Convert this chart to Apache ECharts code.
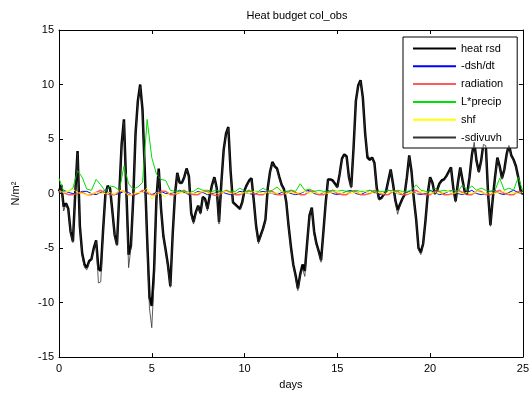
<!DOCTYPE html>
<html>
<head>
<meta charset="utf-8">
<script src="https://cdn.jsdelivr.net/npm/echarts@6/dist/echarts.min.js"></script>
<style>html,body{margin:0;padding:0;background:#fff}#c{width:532px;height:395px}</style>
</head>
<body>
<div id="c"></div>
<script>
const titleText = 'Heat budget col_obs';
const seriesNames = ['heat rsd', '-dsh/dt', 'radiation', 'L*precip', 'shf', '-sdivuvh'];
const xTicks = [0, 5, 10, 15, 20, 25];
const yTicks = [-15, -10, -5, 0, 5, 10, 15];
const fineStep = 0.125;   // days between samples of the residual / divergence series
const coarseStep = 0.25;  // days between samples of the smaller terms

const heatRsd = [
 0.2, 0.8, -1.2, -0.9, -1.4, -3.5, -4.4, 0.0, 3.9, -3.0,
 -5.5, -6.5, -6.8, -6.2, -6.0, -5.0, -4.3, -6.9, -7.1, -3.4,
 -0.1, 0.7, 0.5, -1.6, -3.8, -4.7, 0.0, 4.5, 6.8, 0.5,
 -5.6, -4.8, -0.5, 5.5, 8.5, 10.0, 7.7, 2.0, -4.1, -9.5,
 -10.3, -7.0, -0.5, 2.3, -1.4, -3.9, -5.2, -6.6, -8.5, -3.8,
 -0.1, 1.9, 1.0, 1.0, 1.5, 2.3, 1.6, -1.8, -2.6, -1.7,
 -1.1, -1.8, -0.3, -0.5, -1.4, -0.2, 0.8, 1.5, 0.5, -2.6,
 1.0, 4.0, 5.5, 6.1, 2.0, -0.8, -1.0, -1.2, -1.4, -0.8,
 0.3, 0.8, 1.2, 1.4, -0.7, -3.0, -4.4, -3.8, -3.2, -2.4,
 0.5, 2.0, 2.9, 2.5, 2.3, 1.5, 0.8, 0.4, -0.8, -3.0,
 -4.9, -6.5, -7.5, -8.7, -7.4, -6.5, -7.1, -4.5, -2.0, -1.3,
 -3.5, -4.6, -5.3, -6.1, -3.5, -0.8, 1.3, 1.3, 1.2, 0.9,
 0.6, 1.8, 3.2, 3.6, 3.4, 1.5, 0.6, 4.2, 8.5, 9.9,
 10.4, 8.8, 5.5, 3.3, 3.1, 3.3, 2.8, 0.5, -0.5, -0.4,
 -0.1, 0.2, 1.2, 2.2, 0.9, -0.6, -1.5, -1.0, -0.5, -0.1,
 1.5, 3.5, 2.0, -0.5, -2.4, -5.0, -5.4, -4.6, -2.5, 0.0,
 1.5, 1.0, 0.0, 0.3, 0.9, 1.2, 1.3, 1.6, 2.0, 2.4,
 0.5, -0.7, 1.0, 2.4, 1.2, 0.1, 0.0, 1.5, 3.5, 4.8,
 3.0, 2.0, 3.0, 4.6, 4.5, 0.0, -2.9, -0.5, 1.5, 3.3,
 2.5, 1.4, 2.2, 3.6, 4.5, 3.5, 3.1, 2.5, 1.5, 0.3,
 0.0
];

const sdivuvh = [
 0.1, 0.7, -1.6, -1.0, -1.5, -3.6, -4.5, -0.1, 3.7, -3.2,
 -5.7, -6.8, -7.0, -6.3, -6.1, -5.1, -4.4, -8.2, -8.1, -3.6,
 -0.2, 0.6, 0.4, -1.7, -3.9, -4.8, -0.1, 4.3, 6.6, 0.3,
 -6.8, -5.0, -0.6, 5.3, 8.3, 9.8, 7.4, 1.6, -4.6, -10.5,
 -12.3, -8.0, -0.8, 2.0, -1.6, -4.0, -5.3, -6.8, -8.6, -3.9,
 -0.2, 1.8, 0.9, 0.9, 1.4, 2.2, 1.5, -2.0, -2.8, -1.8,
 -1.2, -1.9, -0.4, -0.6, -1.6, -0.3, 0.7, 1.4, 0.4, -2.8,
 0.9, 3.9, 5.4, 6.0, 1.9, -0.9, -1.1, -1.3, -1.5, -0.9,
 0.2, 0.7, 1.1, 1.3, -0.8, -3.2, -4.6, -3.9, -3.3, -2.5,
 0.4, 1.9, 2.8, 2.4, 2.2, 1.4, 0.7, 0.3, -0.9, -3.2,
 -5.1, -6.6, -7.7, -8.9, -7.5, -6.9, -7.6, -4.6, -2.1, -1.4,
 -3.8, -4.7, -5.4, -6.3, -3.6, -0.9, 1.2, 1.2, 1.1, 0.8,
 0.5, 1.7, 3.1, 3.5, 3.3, 1.4, 0.5, 4.1, 8.4, 9.8,
 10.3, 8.7, 5.4, 3.5, 3.3, 3.2, 2.7, 0.4, -0.6, -0.5,
 -0.2, 0.1, 1.1, 2.1, 0.8, -0.7, -1.9, -1.1, -0.6, -0.2,
 1.4, 3.4, 1.9, -0.6, -2.5, -5.1, -5.6, -4.7, -2.6, -0.1,
 1.4, 0.9, -0.1, 0.2, 0.8, 1.1, 1.2, 1.5, 1.9, 2.3,
 0.4, -0.8, 0.9, 2.3, 1.1, 0.0, -0.1, 1.4, 3.4, 4.7,
 2.9, 1.9, 2.9, 4.5, 4.4, -0.1, -3.0, -0.6, 1.4, 3.2,
 2.4, 1.3, 2.1, 3.5, 4.4, 3.4, 3.0, 2.4, 1.4, 0.2,
 -0.1
];

const dshdt = [
 0.1, 0.3, 0.1, 0.0, 0.0, 0.2, 0.2, 0.0, -0.1, 0.1,
 0.3, 0.0, -0.1, 0.0, 0.2, 0.1, -0.2, 0.0, 0.2, 0.0,
 -0.1, 0.1, 0.2, 0.0, 0.0, 0.1, 0.3, 0.1, -0.1, 0.0,
 0.2, 0.1, -0.1, 0.0, 0.1, 0.2, 0.0, -0.1, 0.0, 0.2,
 0.1, 0.0, -0.1, 0.1, 0.2, 0.1, 0.0, -0.1, 0.1, 0.2,
 0.0, -0.1, 0.0, 0.2, 0.3, 0.0, -0.1, 0.1, 0.3, 0.0,
 -0.1, 0.0, 0.2, 0.3, 0.0, -0.1, 0.1, 0.3, 0.1, -0.1,
 0.0, 0.3, 0.2, 0.0, -0.1, 0.1, 0.3, 0.0, -0.1, 0.0,
 0.3, 0.1, -0.1, 0.0, 0.2, 0.3, 0.0, -0.1, 0.1, 0.3,
 0.0, -0.1, 0.0, 0.2, 0.3, 0.0, -0.1, 0.1, 0.3, 0.1,
 -0.1
];

const radiation = [
 0.2, 0.1, -0.1, -0.1, 0.0, 0.1, -0.1, -0.1, 0.1, 0.3,
 0.0, -0.1, -0.1, 0.2, 0.2, -0.1, -0.1, 0.0, 0.3, 0.1,
 -0.1, -0.1, 0.2, 0.2, -0.1, -0.1, 0.1, 0.3, 0.0, -0.1,
 -0.1, 0.2, 0.2, -0.1, -0.2, 0.0, 0.3, 0.1, -0.1, -0.1,
 0.1, 0.3, 0.0, -0.1, -0.1, 0.2, 0.2, -0.1, -0.1, 0.0,
 0.3, 0.1, -0.1, -0.1, 0.2, 0.2, -0.1, -0.1, 0.1, 0.3,
 0.0, -0.1, -0.1, 0.2, 0.2, -0.1, -0.1, 0.0, 0.3, 0.1,
 -0.1, -0.1, 0.2, 0.2, -0.1, -0.1, 0.1, 0.3, 0.0, -0.1,
 -0.1, 0.2, 0.2, -0.1, -0.1, 0.0, 0.3, 0.1, -0.1, -0.1,
 0.2, 0.2, -0.1, -0.1, 0.1, 0.3, 0.0, -0.1, -0.1, 0.2,
 0.1
];

const precip = [
 1.4, 0.2, 0.2, 0.5, 2.1, 1.5, 0.4, 0.3, 1.3, 0.8,
 0.2, 0.7, 0.6, 0.3, 2.5, 0.9, 0.4, 0.6, 1.0, 6.8,
 3.3, 1.8, 1.3, 1.2, 0.3, 0.2, 0.2, 0.2, 0.1, 0.2,
 0.5, 0.3, 0.3, 0.2, 0.3, 0.2, 0.2, 0.2, 0.2, 0.5,
 0.2, 0.2, 0.2, 0.2, 0.5, 0.2, 0.3, 0.6, 0.2, 0.2,
 0.3, 0.2, 0.9, 0.3, 0.4, 0.2, 0.3, 0.2, 0.2, 0.3,
 0.2, 0.3, 0.2, 0.2, 0.3, 0.2, 0.2, 0.3, 0.2, 0.2,
 0.2, 0.3, 0.2, 0.3, 0.2, 0.2, 0.3, 0.8, 0.3, 0.2,
 0.2, 0.5, 0.2, 0.3, 0.2, 0.3, 0.2, 0.8, 0.3, 0.7,
 0.3, 0.5, 0.3, 0.2, 0.3, 1.4, 0.3, 0.5, 0.3, 1.5,
 0.2
];

const shf = [
 0.3, 0.1, 0.2, 0.4, 0.1, 0.0, -0.1, 0.0, 0.1, 0.0,
 0.0, 0.1, -0.1, 0.3, 0.2, -0.2, 0.0, 0.1, 0.1, 0.5,
 -0.5, 0.1, 0.0, -0.3, 0.1, 0.0, 0.1, 0.0, 0.1, 0.0,
 0.1, 0.2, 0.0, 0.1, 0.0, 0.1, 0.2, 0.0, 0.1, 0.0,
 0.1, 0.0, 0.2, 0.1, 0.0, 0.1, 0.0, 0.1, 0.2, 0.0,
 0.1, 0.0, 0.1, 0.2, 0.0, 0.1, 0.0, 0.1, 0.0, 0.1,
 0.2, 0.0, 0.1, 0.0, 0.1, 0.0, 0.2, 0.1, 0.0, 0.1,
 0.0, 0.1, 0.2, 0.0, 0.1, 0.0, 0.1, 0.0, 0.2, 0.1,
 0.0, 0.1, 0.0, 0.1, 0.2, 0.0, 0.1, 0.0, 0.1, 0.0,
 0.2, 0.1, 0.0, 0.1, 0.0, 0.1, 0.2, 0.0, 0.1, 0.0,
 0.1
];

function pair(values, step) { return values.map((v, i) => [i * step, v]); }

const font = 'Liberation Sans, Arial, Helvetica, sans-serif';
const chart = echarts.init(document.getElementById('c'), null, {renderer: 'canvas'});

function axisBase(show) {
  return {
    type: 'value',
    axisLine: {show: true, onZero: false, lineStyle: {color: '#000', width: 1}},
    axisTick: {show: true, inside: true, length: 4, lineStyle: {color: '#000'}},
    splitLine: {show: false},
    axisLabel: {show: show, color: '#000', fontSize: 11, fontFamily: font}
  };
}

const xMain = Object.assign(axisBase(true), {
  min: xTicks[0], max: xTicks[xTicks.length - 1], interval: 5, position: 'bottom',
  name: 'days', nameLocation: 'middle', nameGap: 21,
  nameTextStyle: {color: '#000', fontSize: 11, fontFamily: font}
});
xMain.axisLabel.margin = 6;
const xTop = Object.assign(axisBase(false), {min: xTicks[0], max: xTicks[xTicks.length - 1], interval: 5, position: 'top'});
const yMain = Object.assign(axisBase(true), {
  min: yTicks[0], max: yTicks[yTicks.length - 1], interval: 5, position: 'left',
  name: 'N/m²', nameLocation: 'middle', nameGap: 38, nameRotate: 90,
  nameTextStyle: {color: '#000', fontSize: 11, fontFamily: font}
});
yMain.axisLabel.margin = 5;
const yRight = Object.assign(axisBase(false), {min: yTicks[0], max: yTicks[yTicks.length - 1], interval: 5, position: 'right'});

const colors = ['#000000', '#0000ff', '#ff5a5a', '#00e000', '#ffff00', '#333333'];
const widths = [2.5, 1, 1.5, 1, 1, 0.8];
const dataSets = [pair(heatRsd, fineStep), pair(dshdt, coarseStep), pair(radiation, coarseStep),
                  pair(precip, coarseStep), pair(shf, coarseStep), pair(sdivuvh, fineStep)];

chart.setOption({
  animation: false,
  backgroundColor: '#fff',
  title: {
    text: titleText, left: 292, top: 5, textAlign: 'center',
    textStyle: {fontSize: 11, fontWeight: 'normal', color: '#000', fontFamily: font}
  },
  grid: {left: 59, right: 7, top: 30, bottom: 35, containLabel: false},
  xAxis: [xMain, xTop],
  yAxis: [yMain, yRight],
  legend: {
    show: true,
    orient: 'vertical', left: 403, top: 37,
    backgroundColor: '#fff', borderColor: '#000', borderWidth: 1, borderRadius: 0,
    padding: [6, 14, 5, 9], itemWidth: 43, itemHeight: 12, itemGap: 6.8,
    itemStyle: {opacity: 0},
    textStyle: {fontSize: 11, color: '#000', fontFamily: font},
    data: seriesNames.slice()
  },
  series: seriesNames.map((n, k) => ({
    name: n, type: 'line', xAxisIndex: 0, yAxisIndex: 0,
    data: dataSets[k], symbol: 'none', smooth: false,
    lineStyle: {color: colors[k], width: widths[k]},
    itemStyle: {color: colors[k]},
    z: 2 + k
  }))
});
</script>
</body>
</html>
